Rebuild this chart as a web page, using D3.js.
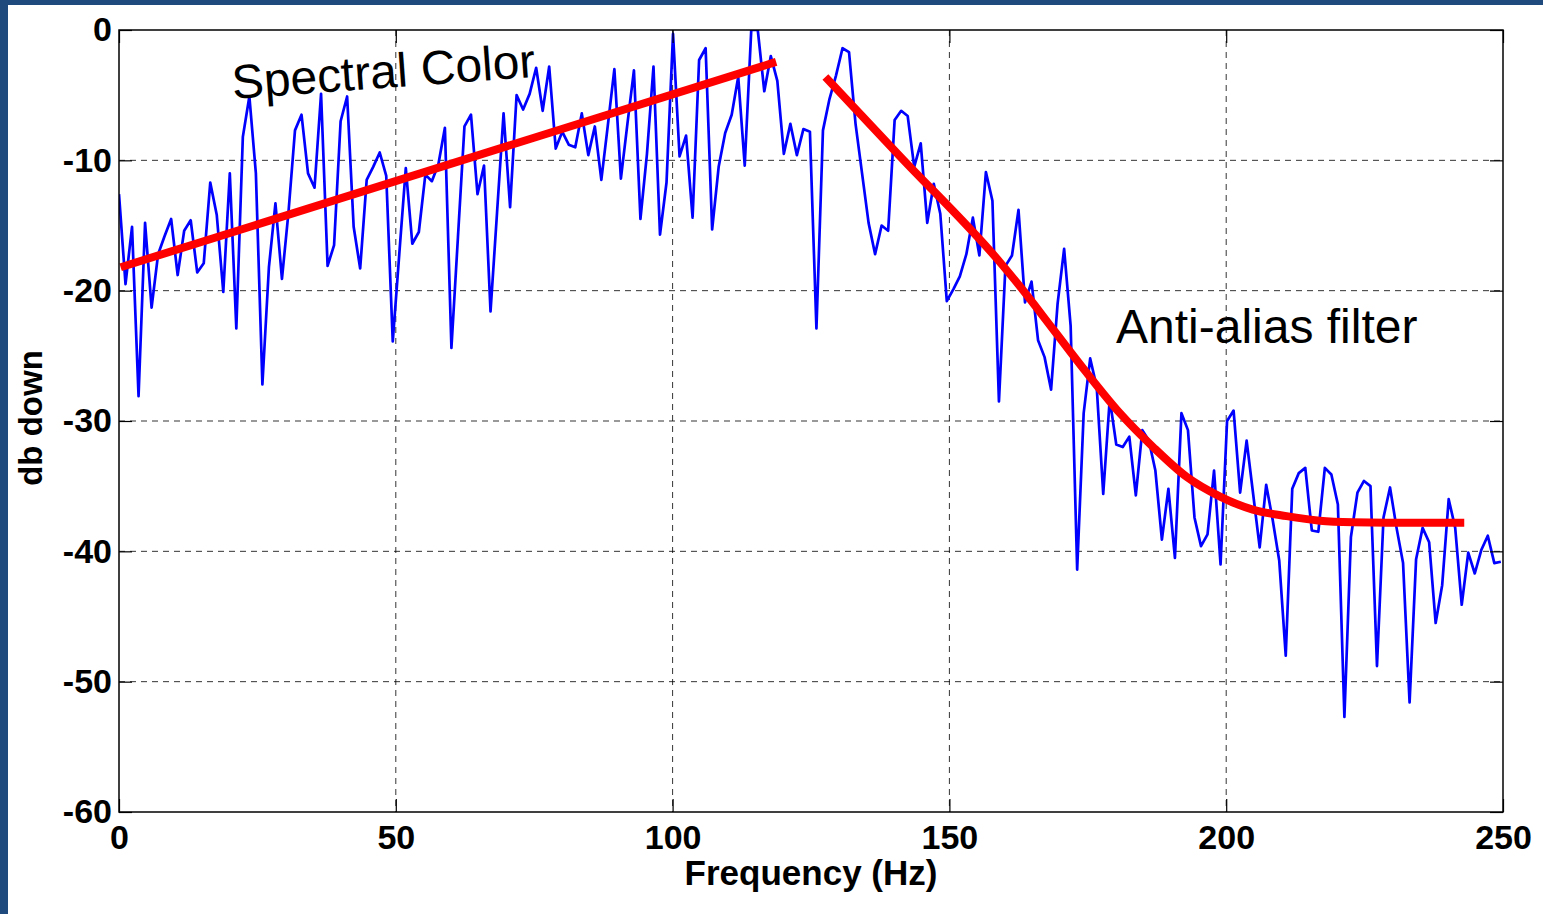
<!doctype html>
<html lang="en">
  <head>
    <meta charset="utf-8">
    <title>Spectrum with anti-alias filter</title>
    <script src="https://d3js.org/d3.v7.min.js"></script>
    <style>
      body { margin: 0; background: #fff; }
      svg { display: block; }
      .tick text { font-family: "Liberation Sans", Arial, sans-serif; font-weight: bold; font-size: 34px; fill: #000; }
    </style>
  </head>
  <body>
    <svg width="1543" height="914"></svg>
    <script>
      // frequency bin spacing (Hz) of the measured spectrum
      var df = 1.1774;

      // measured spectrum, dB, one value per bin starting at 0 Hz
      var spectrum = [
        -12.6, -19.5, -15.1, -28.1, -14.8, -21.3, -17.2, -15.8, -14.5, -18.8,
        -15.4, -14.6, -18.6, -17.9, -11.7, -14.2, -20.1, -11.0, -22.9, -8.2,
        -5.1, -11.0, -27.2, -18.2, -13.3, -19.1, -14.0, -7.7, -6.5, -11.0,
        -12.1, -4.9, -18.1, -16.5, -7.0, -5.1, -15.1, -18.3, -11.5, -10.5,
        -9.4, -11.2, -23.9, -17.2, -10.6, -16.4, -15.5, -11.1, -11.6, -10.3,
        -7.5, -24.4, -15.9, -7.4, -6.5, -12.6, -10.4, -21.6, -14.0, -6.4,
        -13.6, -5.0, -6.1, -4.9, -2.9, -6.2, -2.8, -9.1, -7.8, -8.8,
        -9.0, -6.4, -9.6, -7.4, -11.5, -7.3, -3.0, -11.4, -7.2, -3.1,
        -14.5, -9.5, -2.8, -15.7, -11.7, -0.3, -9.7, -8.1, -14.4, -2.3,
        -1.4, -15.3, -10.5, -7.9, -6.5, -3.6, -10.4, 0, 0, -4.7,
        -2.0, -3.9, -9.5, -7.2, -9.6, -7.6, -7.8, -22.9, -7.7, -5.3,
        -3.5, -1.4, -1.7, -7.2, -11.0, -14.8, -17.2, -15.0, -15.4, -6.9,
        -6.2, -6.6, -10.5, -8.7, -14.8, -11.8, -14.1, -20.8, -19.9, -18.9,
        -17.2, -14.4, -17.3, -10.9, -13.1, -28.5, -18.1, -17.3, -13.8, -20.9,
        -19.3, -23.8, -25.1, -27.6, -21.0, -16.8, -22.7, -41.4, -29.4, -25.2,
        -27.4, -35.6, -28.3, -31.8, -32.0, -31.2, -35.7, -30.7, -31.5, -33.8,
        -39.1, -35.2, -40.5, -29.4, -30.7, -37.4, -39.6, -38.7, -33.8, -41.0,
        -30.0, -29.2, -35.5, -31.5, -35.6, -39.7, -34.9, -37.6, -40.7, -48.0,
        -35.2, -34.0, -33.6, -38.4, -38.5, -33.6, -34.1, -36.4, -52.7, -38.9,
        -35.5, -34.6, -35.0, -48.8, -37.4, -35.1, -38.2, -40.9, -51.6, -40.6,
        -38.2, -39.3, -45.5, -42.6, -36.0, -38.2, -44.1, -40.1, -41.7, -39.9,
        -38.8, -40.9, -40.8
      ];

      // "spectral color" trend line
      var colorFreq = [0.3, 118.7];
      var colorDb = [-18.2, -2.45];

      // anti-alias filter response
      var filterFreq = [127.6, 141.1, 159.1, 162.8, 168.8, 174.8, 180.8, 186.8, 192.9, 198.9, 204.8, 210.9, 216.9, 222.9, 229.0, 243.0];
      var filterDb = [-3.6, -9.7, -17.8, -19.7, -23.0, -26.3, -29.4, -32.0, -34.3, -35.8, -36.8, -37.3, -37.65, -37.77, -37.8, -37.8];

      var xTicks = [0, 50, 100, 150, 200, 250];
      var yTicks = [0, -10, -20, -30, -40, -50, -60];

      var svg = d3.select('svg');
      var margin = {left: 119, top: 30, right: 40, bottom: 102};
      var width = 1543 - margin.left - margin.right;
      var height = 914 - margin.top - margin.bottom;

      // slide frame
      svg.append('rect').attr('x', 0).attr('y', 0).attr('width', 1543).attr('height', 914).attr('fill', '#fff');
      svg.append('rect').attr('x', 0).attr('y', 0).attr('width', 8).attr('height', 914).attr('fill', '#1f4a7e');
      svg.append('rect').attr('x', 0).attr('y', 0).attr('width', 1543).attr('height', 5).attr('fill', '#1f4a7e');

      var x = d3.scaleLinear().domain([0, 250]).range([0, width]);
      var y = d3.scaleLinear().domain([-60, 0]).range([height, 0]);

      // plain hyphen for negatives, like the original plot
      var plainNum = function(d){ return String(d); };

      var g = svg.append('g').attr('transform', 'translate(' + margin.left + ',' + margin.top + ')');

      g.append('clipPath').attr('id', 'plot-clip')
        .append('rect').attr('width', width).attr('height', height);

      // dashed grid
      g.selectAll('.vgrid')
        .data(xTicks.slice(1, -1))
        .enter().append('line')
          .attr('x1', function(d){ return x(d); })
          .attr('x2', function(d){ return x(d); })
          .attr('y1', 0).attr('y2', height)
          .style('stroke', '#000').style('stroke-opacity', 0.8)
          .style('stroke-dasharray', '6,5');

      g.selectAll('.hgrid')
        .data(yTicks.slice(1, -1))
        .enter().append('line')
          .attr('x1', 0).attr('x2', width)
          .attr('y1', function(d){ return y(d); })
          .attr('y2', function(d){ return y(d); })
          .style('stroke', '#000').style('stroke-opacity', 0.8)
          .style('stroke-dasharray', '6,5');

      var plot = g.append('g').attr('clip-path', 'url(#plot-clip)');

      var specLine = d3.line()
        .x(function(d, i){ return x(i * df); })
        .y(function(d){ return y(d); });

      plot.append('path')
        .datum(spectrum)
        .attr('d', specLine)
        .style('fill', 'none')
        .style('stroke', '#0000ff')
        .style('stroke-width', 2.7)
        .style('stroke-linejoin', 'round');

      var pairLine = d3.line()
        .x(function(d){ return x(d[0]); })
        .y(function(d){ return y(d[1]); });

      plot.append('path')
        .datum(d3.zip(colorFreq, colorDb))
        .attr('d', pairLine)
        .style('fill', 'none')
        .style('stroke', '#ff0000')
        .style('stroke-width', 8);

      plot.append('path')
        .datum(d3.zip(filterFreq, filterDb))
        .attr('d', pairLine.curve(d3.curveMonotoneX))
        .style('fill', 'none')
        .style('stroke', '#ff0000')
        .style('stroke-width', 8);

      // axes with inward ticks on all four sides
      g.append('g')
        .attr('transform', 'translate(0,' + height + ')')
        .call(d3.axisBottom(x).tickValues(xTicks).tickFormat(plainNum).tickSizeInner(-13).tickSizeOuter(0).tickPadding(13));

      g.append('g')
        .call(d3.axisLeft(y).tickValues(yTicks).tickFormat(plainNum).tickSizeInner(-13).tickSizeOuter(0).tickPadding(7));

      g.append('g')
        .call(d3.axisTop(x).tickValues(xTicks).tickSizeInner(-13).tickSizeOuter(0).tickFormat(''));

      g.append('g')
        .attr('transform', 'translate(' + width + ',0)')
        .call(d3.axisRight(y).tickValues(yTicks).tickSizeInner(-13).tickSizeOuter(0).tickFormat(''));

      g.selectAll('.tick line').style('stroke', '#000').style('stroke-width', 1.2);
      g.selectAll('.domain').remove();

      g.append('rect')
        .attr('width', width).attr('height', height)
        .style('fill', 'none').style('stroke', '#000').style('stroke-width', 1.5);

      // annotations
      svg.append('text')
        .attr('x', 233).attr('y', 99)
        .attr('transform', 'rotate(-4.2,233,99)')
        .style('font-family', '"Liberation Sans", Arial, sans-serif')
        .style('font-size', '48px')
        .text('Spectral Color');

      svg.append('text')
        .attr('x', 1116).attr('y', 343)
        .style('font-family', '"Liberation Sans", Arial, sans-serif')
        .style('font-size', '48px')
        .text('Anti-alias filter');

      // axis titles
      svg.append('text')
        .attr('x', margin.left + width / 2).attr('y', 885)
        .attr('text-anchor', 'middle')
        .style('font-family', '"Liberation Sans", Arial, sans-serif')
        .style('font-weight', 'bold')
        .style('font-size', '35px')
        .text('Frequency (Hz)');

      svg.append('text')
        .attr('transform', 'translate(42,418) rotate(-90)')
        .attr('text-anchor', 'middle')
        .style('font-family', '"Liberation Sans", Arial, sans-serif')
        .style('font-weight', 'bold')
        .style('font-size', '33px')
        .text('db down');
    </script>
  </body>
</html>
